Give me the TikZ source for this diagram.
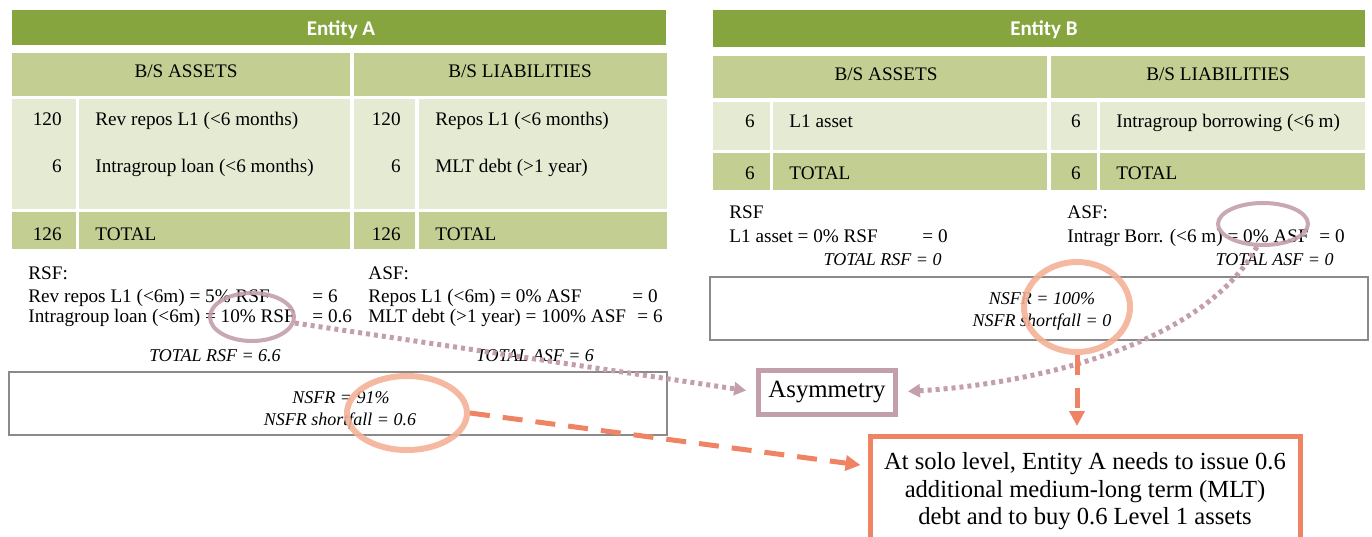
\documentclass[tikz,border=0pt]{standalone}
\usepackage{fontspec}
\setmainfont{Liberation Serif}
\newfontfamily\headfont{Carlito}
\usetikzlibrary{arrows.meta,shapes.geometric}
\definecolor{hdrgreen}{HTML}{86A53E}
\definecolor{rowgreen}{HTML}{C3CF92}
\definecolor{bodygreen}{HTML}{E5EAD3}
\definecolor{mauve}{HTML}{C39EAB}
\definecolor{salmon}{HTML}{F4B096}
\definecolor{coral}{HTML}{EF8464}
\definecolor{boxgray}{HTML}{8A8A8A}
\begin{document}
\begin{tikzpicture}[x=0.5pt, y=-0.5pt,
  txt/.style={inner sep=0pt, font=\fontsize{9.6}{11}\selectfont},
  itxt/.style={inner sep=0pt, font=\fontsize{9}{11}\selectfont\itshape},
  head/.style={inner sep=0pt, text=white, font=\headfont\bfseries\fontsize{10.5}{12}\selectfont},
  ring/.style={draw=#1, ellipse, inner sep=0pt, draw opacity=0.9},
  nsfrbox/.style={draw=boxgray, line width=1pt},
  dotarrow/.style={mauve, line width=2.5pt, dash pattern=on 2pt off 2pt, -{Triangle[length=6pt,width=6.5pt]}},
  dasharrow/.style={coral, line width=2.5pt, dash pattern=on 10pt off 6.5pt, -{Triangle[length=7.5pt,width=7.5pt]}}]
\useasboundingbox (0,0) rectangle (1372,536);

% Entity A balance sheet
\fill[hdrgreen] (12,10) rectangle (666,45);
\node[head, anchor=base] (titleA) at (341,35) {Entity A};
\fill[rowgreen] (12,53) rectangle (350,96);
\fill[rowgreen] (354,53) rectangle (667,96);
\fill[bodygreen] (12,99) rectangle (76,209);
\fill[bodygreen] (79,99) rectangle (350,209);
\fill[bodygreen] (354,99) rectangle (415,209);
\fill[bodygreen] (419,99) rectangle (667,209);
\fill[rowgreen] (12,212) rectangle (76,249);
\fill[rowgreen] (79,212) rectangle (350,249);
\fill[rowgreen] (354,212) rectangle (415,249);
\fill[rowgreen] (419,212) rectangle (667,249);
\node[txt, anchor=base] (assetsA) at (186,77) {B/S ASSETS};
\node[txt, anchor=base] (liabA) at (520,77) {B/S LIABILITIES};
\node[txt, anchor=base east] (aA1) at (62,125) {120};
\node[txt, anchor=base west] (aA1t) at (95,125) {Rev repos L1 (<6 months)};
\node[txt, anchor=base east] (aA2) at (62,172) {6};
\node[txt, anchor=base west] (aA2t) at (95,172) {Intragroup loan (<6 months)};
\node[txt, anchor=base east] (lA1) at (401,125) {120};
\node[txt, anchor=base west] (lA1t) at (435,125) {Repos L1 (<6 months)};
\node[txt, anchor=base east] (lA2) at (401,172) {6};
\node[txt, anchor=base west] (lA2t) at (435,172) {MLT debt (>1 year)};
\node[txt, anchor=base east] (aAtot) at (62,240) {126};
\node[txt, anchor=base west] (aAtott) at (95,240) {TOTAL};
\node[txt, anchor=base east] (lAtot) at (401,240) {126};
\node[txt, anchor=base west] (lAtott) at (435,240) {TOTAL};

% Entity A funding
\node[txt, anchor=base west] (rsfA) at (28,279) {RSF:};
\node[txt, anchor=base west] (rsfA1) at (28,302) {Rev repos L1 (<6m) = 5\% RSF};
\node[txt, anchor=base west] (rsfA1v) at (312,302) {= 6};
\node[txt, anchor=base west] (rsfA2) at (28,322) {Intragroup loan (<6m) = 10\% RSF};
\node[txt, anchor=base west] (rsfA2v) at (312,322) {= 0.6};
\node[txt, anchor=base west] (asfA) at (368,279) {ASF:};
\node[txt, anchor=base west] (asfA1) at (368,302) {Repos L1 (<6m) = 0\% ASF};
\node[txt, anchor=base west] (asfA1v) at (632,302) {= 0};
\node[txt, anchor=base west] (asfA2) at (368,322) {MLT debt (>1 year) = 100\% ASF};
\node[txt, anchor=base west] (asfA2v) at (637,322) {= 6};
\node[itxt, anchor=base] (rsfAtot) at (215,361) {TOTAL RSF = 6.6};
\node[itxt, anchor=base] (asfAtot) at (535,361) {TOTAL ASF = 6};
\draw[nsfrbox] (9,372) rectangle (667,435);
\node[itxt, anchor=base] (nsfrA) at (341,403) {NSFR = 91\%};
\node[itxt, anchor=base] (gapA) at (340,425) {NSFR shortfall = 0.6};

% Entity B balance sheet
\fill[hdrgreen] (713,10) rectangle (1365,47);
\node[head, anchor=base] (titleB) at (1044,35) {Entity B};
\fill[rowgreen] (713,56) rectangle (1047,98);
\fill[rowgreen] (1051,56) rectangle (1365,98);
\fill[bodygreen] (713,102) rectangle (770,150);
\fill[bodygreen] (773,102) rectangle (1047,150);
\fill[bodygreen] (1051,102) rectangle (1097,150);
\fill[bodygreen] (1100,102) rectangle (1365,150);
\fill[rowgreen] (713,153) rectangle (770,190);
\fill[rowgreen] (773,153) rectangle (1047,190);
\fill[rowgreen] (1051,153) rectangle (1097,190);
\fill[rowgreen] (1100,153) rectangle (1365,190);
\node[txt, anchor=base] (assetsB) at (886,80) {B/S ASSETS};
\node[txt, anchor=base] (liabB) at (1218,80) {B/S LIABILITIES};
\node[txt, anchor=base east] (aB1) at (755,127) {6};
\node[txt, anchor=base west] (aB1t) at (789,127) {L1 asset};
\node[txt, anchor=base east] (lB1) at (1081,127) {6};
\node[txt, anchor=base west] (lB1t) at (1116,127) {Intragroup borrowing (<6 m)};
\node[txt, anchor=base east] (aBtot) at (755,179) {6};
\node[txt, anchor=base west] (aBtott) at (789,179) {TOTAL};
\node[txt, anchor=base east] (lBtot) at (1081,179) {6};
\node[txt, anchor=base west] (lBtott) at (1116,179) {TOTAL};

% Entity B funding
\node[txt, anchor=base west] (rsfB) at (729,218) {RSF};
\node[txt, anchor=base west] (rsfB1) at (729,242) {L1 asset = 0\% RSF};
\node[txt, anchor=base west] (rsfB1v) at (922,242) {= 0};
\node[itxt, anchor=base east] (rsfBtot) at (942,265) {TOTAL RSF = 0};
\node[txt, anchor=base west] (asfB) at (1067,218) {ASF:};
\node[txt, anchor=base west] (asfB1) at (1067,242) {Intragr Borr. (<6 m) = 0\% ASF};
\node[txt, anchor=base west] (asfB1v) at (1319,242) {= 0};
\node[itxt, anchor=base east] (asfBtot) at (1334,265) {TOTAL ASF = 0};
\draw[nsfrbox] (710,277) rectangle (1368,340);
\node[itxt, anchor=base] (nsfrB) at (1042,304) {NSFR = 100\%};
\node[itxt, anchor=base] (gapB) at (1042,326) {NSFR shortfall = 0};

% conclusions
\node[draw=mauve, line width=2.5pt, minimum width=68.5pt, minimum height=22pt, inner sep=0pt,
  font=\fontsize{12.4}{14}\selectfont] (asym) at (827,392) {Asymmetry};
\node[draw=coral, line width=2.5pt, anchor=north, minimum width=215pt, inner ysep=8pt,
  align=center, font=\fontsize{12.3}{13.75}\selectfont] (solo) at (1085,434)
  {At solo level, Entity A needs to issue 0.6\\ additional medium-long term (MLT)\\ debt and to buy 0.6 Level 1 assets};

% highlights
\node[ring=mauve, line width=2pt, minimum width=42pt, minimum height=24pt] (ringA) at (252,317) {};
\node[ring=salmon, line width=3pt, minimum width=60pt, minimum height=37pt] (ovalA) at (407,413) {};
\node[ring=mauve, line width=2pt, minimum width=45pt, minimum height=21pt] (ringB) at (1263,224) {};
\node[ring=salmon, line width=3pt, minimum width=53pt, minimum height=45pt] (ovalB) at (1077,307) {};

\draw[dotarrow, shorten >=5pt] (ringA.-8) -- (asym.west);
\draw[dotarrow, shorten >=5pt] (ringB.-105) .. controls (1200,350) and (1020,385) .. (asym.east);
\draw[dasharrow, shorten >=3.5pt] (ovalA.east) -- ([yshift=-16pt]solo.north west);
\draw[dasharrow, shorten >=4pt] (ovalB.south) -- (ovalB.south |- solo.north);
\end{tikzpicture}
\end{document}
